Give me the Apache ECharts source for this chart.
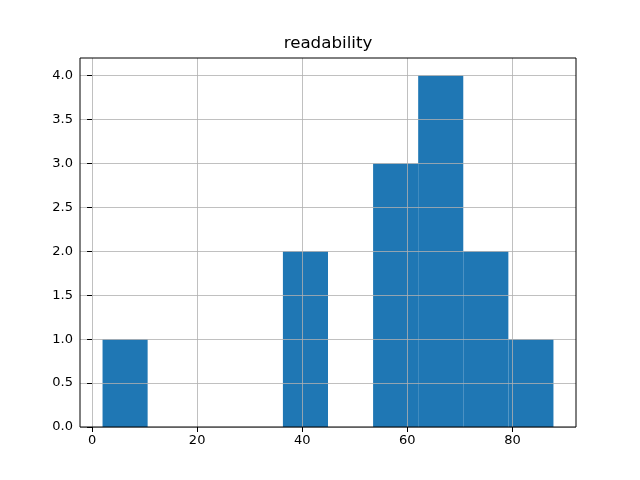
<!DOCTYPE html>
<html><head><meta charset="utf-8">
<script src="https://cdn.jsdelivr.net/npm/echarts@6/dist/echarts.min.js"></script>
<style>html,body{margin:0;padding:0;background:#fff}#c{width:640px;height:480px}</style>
</head><body><div id="c"></div>
<script>
var title = 'readability';
var binEdges = [2.0, 10.58, 19.16, 27.74, 36.32, 44.9, 53.48, 62.06, 70.64, 79.22, 87.8];
var counts = [1, 0, 0, 0, 2, 0, 3, 4, 2, 1];
var xTicks = [0, 20, 40, 60, 80];
var yTicks = [0, 0.5, 1.0, 1.5, 2.0, 2.5, 3.0, 3.5, 4.0];

var data = counts.map(function (c, i) { return [binEdges[i], binEdges[i + 1], c]; });
var span = binEdges[binEdges.length - 1] - binEdges[0];
var xMin = binEdges[0] - span * 0.05, xMax = binEdges[binEdges.length - 1] + span * 0.05;
var yMax = Math.max.apply(null, counts) * 1.05;

var font = 'DejaVu Sans';
var chart = echarts.init(document.getElementById('c'), null, { renderer: 'canvas' });
chart.setOption({
  animation: false,
  backgroundColor: '#fff',
  graphic: [{ type: 'text', x: 328, y: 44, z: 10,
    style: { text: title, fill: '#000', font: '16.7px "DejaVu Sans"', textAlign: 'center', textVerticalAlign: 'middle' } }],
  grid: { left: 80, right: 64, top: 58, bottom: 53, show: true, borderColor: '#000', borderWidth: 1, backgroundColor: 'transparent', z: 5 },
  xAxis: {
    type: 'value', min: xMin, max: xMax, z: 4,
    axisLine: { show: false },
    axisTick: { show: true, customValues: xTicks, length: 5, lineStyle: { color: '#000', width: 1 } },
    axisLabel: { customValues: xTicks, color: '#000', fontFamily: font, fontSize: 13, margin: 7 },
    splitLine: { show: true, lineStyle: { color: '#b0b0b0', width: 0.8 } }
  },
  yAxis: {
    type: 'value', min: 0, max: yMax, z: 4,
    axisLine: { show: false },
    axisTick: { show: true, customValues: yTicks, length: 5, lineStyle: { color: '#000', width: 1 } },
    axisLabel: { customValues: yTicks, color: '#000', fontFamily: font, fontSize: 13, margin: 7,
      formatter: function (v) { return v.toFixed(1); } },
    splitLine: { show: true, lineStyle: { color: '#b0b0b0', width: 0.8 } }
  },
  series: [{
    type: 'custom', z: 2,
    data: data,
    encode: { x: [0, 1], y: 2 },
    renderItem: function (params, api) {
      var p0 = api.coord([api.value(0), api.value(2)]);
      var p1 = api.coord([api.value(1), 0]);
      return { type: 'rect', shape: { x: p0[0], y: p0[1], width: p1[0] - p0[0], height: p1[1] - p0[1] },
        style: { fill: '#1f77b4' } };
    }
  }]
});
</script></body></html>
